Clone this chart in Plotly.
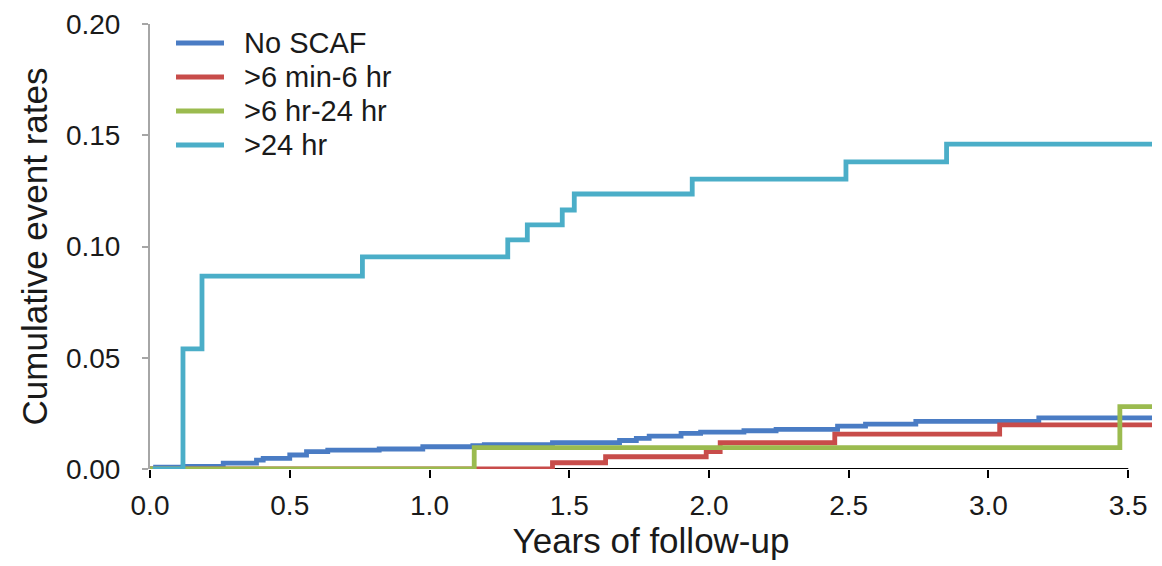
import plotly.graph_objects as go

# ---- data ----
no_scaf_x = [0.0, 0.02, 0.119, 0.262, 0.381, 0.405, 0.50, 0.56, 0.636, 0.82, 0.976, 1.155, 1.196, 1.44, 1.68, 1.74, 1.786, 1.90, 1.97, 2.125, 2.24, 2.46, 2.56, 2.74, 3.18, 3.585]
no_scaf_y = [0.0, 0.0008, 0.0012, 0.0026, 0.004, 0.0048, 0.0063, 0.0078, 0.0085, 0.009, 0.0100, 0.0105, 0.0110, 0.0118, 0.0128, 0.0138, 0.0148, 0.0160, 0.0166, 0.0172, 0.0178, 0.0193, 0.0202, 0.0214, 0.0230, 0.0230]

min6_6hr_x = [0.0, 1.44, 1.63, 1.99, 2.04, 2.45, 3.04, 3.585]
min6_6hr_y = [0.0, 0.0028, 0.0055, 0.0078, 0.0118, 0.0157, 0.0198, 0.0198]

hr6_24hr_x = [0.0, 1.16, 3.47, 3.585]
hr6_24hr_y = [0.0, 0.0096, 0.0280, 0.0280]

gt24hr_x = [0.01, 0.118, 0.186, 0.76, 1.28, 1.35, 1.475, 1.518, 1.94, 2.49, 2.85, 3.585]
gt24hr_y = [0.0, 0.054, 0.0867, 0.0953, 0.1030, 0.1097, 0.1164, 0.1236, 0.1303, 0.1380, 0.1460, 0.1460]

x_ticks = [0.0, 0.5, 1.0, 1.5, 2.0, 2.5, 3.0, 3.5]
y_ticks = [0.00, 0.05, 0.10, 0.15, 0.20]

series_names = ["No SCAF", ">6 min-6 hr", ">6 hr-24 hr", ">24 hr"]
series_x = [no_scaf_x, min6_6hr_x, hr6_24hr_x, gt24hr_x]
series_y = [no_scaf_y, min6_6hr_y, hr6_24hr_y, gt24hr_y]
series_colors = ["#4A7CC4", "#C84C4A", "#9BBB4F", "#4BAEC8"]
draw_order = [0, 1, 2, 3]

FONT = "Liberation Sans, Arial, sans-serif"
TXT = "#1a1a1a"

# plot-area geometry (pixels) used to place the hand-drawn legend
L, R, T, B = 150, 10, 24, 97
W, H = 1162, 566
PW, PH = W - L - R, H - T - B

def px_x(px):
    return (px - L) / PW

def px_y(py):
    return (H - B - py) / PH

fig = go.Figure()
for i in draw_order:
    fig.add_trace(go.Scatter(x=series_x[i], y=series_y[i], mode="lines", name=series_names[i],
                             line=dict(color=series_colors[i], width=4.8, shape="hv"),
                             showlegend=False))

fig.update_layout(
    width=W, height=H,
    margin=dict(l=L, r=R, t=T, b=B),
    paper_bgcolor="white", plot_bgcolor="white",
    font=dict(family=FONT, color=TXT),
    showlegend=False,
    xaxis=dict(range=[0, 3.585], tickvals=x_ticks, tickformat=".1f",
               showgrid=False, zeroline=False, showline=False,
               ticks="outside", ticklen=8, tickwidth=2, tickcolor="black",
               tickfont=dict(size=28, family=FONT, color=TXT),
               ticklabelstandoff=3,
               title=dict(text="Years of follow-up", font=dict(size=35, family=FONT, color=TXT), standoff=2),
               automargin=False),
    yaxis=dict(range=[0, 0.2], tickvals=y_ticks, tickformat=".2f",
               showgrid=False, zeroline=False, showline=True, linecolor="#A6A6A6", linewidth=2,
               ticks="outside", ticklen=6, tickwidth=2, tickcolor="#A6A6A6",
               tickfont=dict(size=28, family=FONT, color=TXT),
               ticklabelstandoff=16,
               title=dict(text="Cumulative event rates", font=dict(size=35, family=FONT, color=TXT), standoff=8),
               automargin=False),
)

# x axis line only up to the last tick (3.5)
fig.add_shape(type="line", xref="x", yref="y", x0=0, x1=3.5, y0=0, y1=0,
              line=dict(color="black", width=2), layer="below")

# legend (line samples + labels)
row_py = [43, 77, 111, 145]
for i in range(4):
    yy = px_y(row_py[i])
    fig.add_shape(type="line", xref="paper", yref="paper",
                  x0=px_x(176), x1=px_x(224), y0=yy, y1=yy,
                  line=dict(color=series_colors[i], width=4.8))
    fig.add_annotation(xref="paper", yref="paper", x=px_x(242), y=yy,
                       xanchor="left", yanchor="middle", showarrow=False,
                       text=series_names[i], font=dict(size=29, family=FONT, color=TXT))

fig.write_html("out.html")
